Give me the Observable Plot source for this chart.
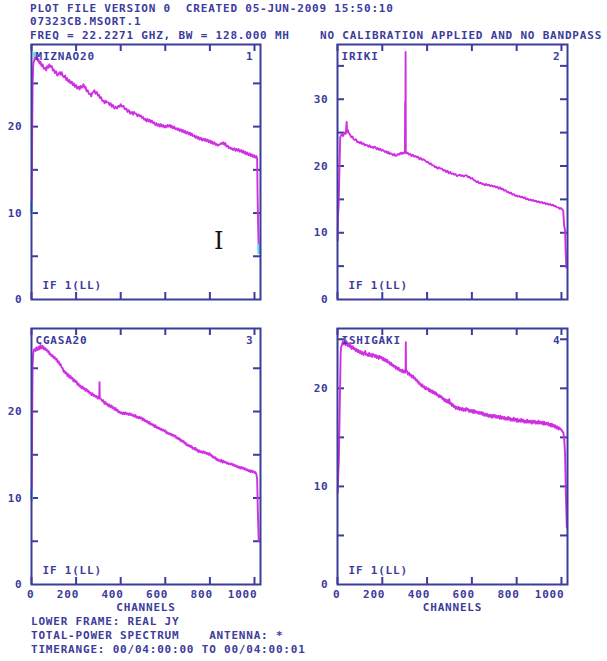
<!DOCTYPE html>
<html><head><meta charset="utf-8">
<script src="https://cdn.jsdelivr.net/npm/d3@7"></script>
<script src="https://cdn.jsdelivr.net/npm/@observablehq/plot@0.6"></script>
<style>
body{margin:0;background:#fff;}
#page{position:relative;width:607px;height:661px;overflow:hidden;font-family:"DejaVu Sans Mono",monospace;font-size:11px;font-weight:bold;letter-spacing:0.8px;color:#3c3c9c;}
.t{position:absolute;white-space:pre;line-height:12px;}
.p{position:absolute;}
.p svg text{letter-spacing:0.8px;font-weight:bold;}
.cursor{position:absolute;font-family:"DejaVu Serif",serif;font-weight:normal;font-size:24px;line-height:24px;color:#111;letter-spacing:0;}
</style></head><body><div id="page"></div>
<script>
// ---------- text ----------
const header1 = "PLOT FILE VERSION 0  CREATED 05-JUN-2009 15:50:10";
const header2 = "07323CB.MSORT.1";
const header3a = "FREQ = 22.2271 GHZ, BW = 128.000 MH";
const header3b = "NO CALIBRATION APPLIED AND NO BANDPASS";
const footer = ["LOWER FRAME: REAL JY", "TOTAL-POWER SPECTRUM    ANTENNA: *", "TIMERANGE: 00/04:00:00 TO 00/04:00:01"];
const names = ["MIZNAO20", "IRIKI", "CGASA20", "ISHIGAKI"];
const numbers = ["1", "2", "3", "4"];
const ifLabel = "IF 1(LL)";
const xLabel = "CHANNELS";

// ---------- scales / ticks ----------
const xMax = 1027;
const xTicks = [0, 200, 400, 600, 800, 1000];
const yMax = [29.5, 38.2, 29.6, 26.1];
const yTicks = [[5,10,15,20,25], [5,10,15,20,25,30,35], [5,10,15,20,25], [5,10,15,20,25]];
const yLabels = [[0,10,20], [0,10,20,30], [0,10,20], [0,10,20]];

// ---------- spectra (channel, Jy) ----------
const spec1 = [[1,10.3],[2,15],[3,19.0],[5,25.0],[8,27.3],[12,27.6],[16,28.2],[20,27.8],[24,28.1],[28,27.6],[31,27.8],[36,27.3],[40,27.5],[45,27.0],[50,27.2],[55,26.7],[61,26.8],[66,26.5],[70,27.0],[75,26.8],[80,27.2],[85,26.9],[91,27.0],[96,26.5],[100,26.6],[105,26.2],[110,26.4],[116,25.9],[121,26.1],[126,26.3],[130,26.0],[135,26.3],[140,25.9],[145,25.7],[151,25.9],[156,25.4],[160,25.6],[165,25.2],[170,25.4],[175,25.0],[181,25.2],[186,24.8],[190,25.0],[195,24.6],[200,24.8],[205,24.4],[211,24.6],[216,24.3],[220,24.7],[226,24.5],[233,24.9],[238,24.5],[242,24.6],[247,24.1],[252,24.2],[257,23.8],[263,23.8],[268,23.5],[272,23.9],[277,24.0],[282,24.2],[287,23.8],[293,24.0],[298,23.6],[302,23.7],[307,23.3],[312,23.4],[317,23.0],[323,23.0],[328,22.7],[333,23.0],[338,22.8],[345,22.8],[350,22.5],[355,22.7],[360,22.3],[365,22.5],[372,22.1],[377,22.3],[383,22.1],[389,22.4],[395,22.3],[400,22.6],[405,22.3],[413,22.4],[418,22.0],[425,22.1],[431,21.7],[437,21.9],[443,21.5],[450,21.7],[455,21.4],[460,21.7],[465,21.5],[470,21.5],[475,21.2],[480,21.4],[485,21.2],[490,21.3],[495,21.0],[500,21.1],[505,20.8],[510,20.9],[515,20.6],[520,20.9],[525,20.6],[530,20.8],[535,20.5],[540,20.7],[545,20.4],[550,20.5],[555,20.2],[560,20.4],[565,20.1],[570,20.3],[575,20.0],[580,20.3],[585,20.0],[590,20.2],[595,19.9],[600,20.1],[605,19.9],[610,20.2],[615,20.0],[620,20.2],[625,19.9],[629,20.1],[634,19.8],[640,20.0],[645,19.7],[650,19.8],[655,19.6],[659,19.8],[664,19.5],[670,19.7],[675,19.4],[680,19.6],[685,19.3],[689,19.5],[694,19.2],[700,19.4],[705,19.1],[710,19.3],[715,19.0],[719,19.2],[724,18.9],[730,19.0],[735,18.7],[740,18.9],[745,18.6],[749,18.8],[754,18.5],[760,18.7],[765,18.4],[770,18.6],[775,18.4],[779,18.6],[784,18.3],[790,18.5],[795,18.2],[800,18.4],[805,18.1],[809,18.3],[814,18.0],[820,18.2],[825,17.9],[830,18.0],[835,17.8],[839,17.9],[844,17.9],[850,18.1],[855,18.0],[860,18.2],[865,17.9],[869,18.1],[874,17.7],[880,17.8],[885,17.5],[890,17.6],[895,17.4],[899,17.5],[904,17.3],[910,17.5],[915,17.2],[920,17.4],[925,17.2],[929,17.4],[934,17.1],[940,17.3],[945,17.0],[950,17.2],[955,16.9],[958,17.1],[963,16.8],[968,17.0],[973,16.7],[978,16.9],[983,16.6],[988,16.8],[993,16.5],[998,16.7],[1003,16.4],[1008,16.6],[1012,16.3],[1014,12.0],[1016,9.0],[1019,5.8]];

const spec2 = [[1,8.8],[2,12.3],[5,14],[9,19.8],[12,24.3],[16,24.6],[20,24.8],[25,24.5],[30,25.0],[35,24.8],[38,25.3],[41,26.6],[43,25.0],[46,25.4],[50,25.0],[57,24.6],[62,24.3],[67,24.4],[72,24.0],[77,23.9],[82,24.0],[88,23.6],[95,23.6],[100,23.4],[105,23.6],[110,23.3],[116,23.4],[121,23.1],[127,23.2],[132,23.1],[138,22.9],[143,23.1],[148,22.8],[154,22.9],[160,22.7],[165,22.9],[169,22.8],[175,22.5],[180,22.7],[186,22.4],[191,22.6],[196,22.3],[201,22.4],[206,22.3],[212,22.1],[218,22.2],[223,21.9],[228,22.1],[233,21.8],[238,21.9],[243,21.8],[248,21.6],[254,21.8],[259,21.5],[265,21.6],[270,21.8],[276,21.7],[282,22.0],[288,21.8],[293,22.0],[298,21.9],[301,22.1],[302,29.6],[303,22.2],[304,37.1],[305,22.0],[308,21.9],[313,22.0],[318,21.7],[325,21.8],[330,21.5],[336,21.7],[342,21.4],[348,21.5],[354,21.3],[360,21.4],[366,21.0],[372,21.2],[378,20.9],[384,21.0],[392,20.8],[398,20.6],[404,20.6],[410,20.3],[416,20.4],[422,20.1],[429,20.1],[435,19.8],[441,19.9],[447,19.6],[453,19.8],[460,19.6],[467,19.6],[473,19.3],[479,19.4],[485,19.1],[491,19.3],[497,18.9],[503,19.1],[509,18.8],[515,18.9],[521,18.7],[527,18.8],[533,18.5],[540,18.6],[546,18.7],[552,18.5],[558,18.6],[564,18.4],[570,18.6],[577,18.6],[583,18.3],[589,18.4],[595,18.1],[602,18.2],[608,17.9],[615,17.8],[621,17.6],[627,17.7],[633,17.4],[640,17.5],[646,17.3],[652,17.3],[658,17.1],[664,17.3],[670,17.1],[676,17.2],[682,17.0],[689,17.1],[695,16.9],[701,17.0],[707,16.8],[714,16.9],[720,16.6],[726,16.8],[732,16.5],[738,16.6],[744,16.3],[750,16.4],[757,16.1],[763,16.1],[769,15.9],[775,16.0],[781,15.7],[787,15.8],[794,15.5],[800,15.6],[806,15.4],[812,15.5],[818,15.3],[825,15.4],[831,15.2],[837,15.3],[843,15.0],[849,15.1],[855,14.9],[862,15.0],[868,14.8],[874,14.9],[880,14.7],[886,14.8],[892,14.6],[899,14.7],[905,14.5],[912,14.6],[918,14.4],[924,14.5],[930,14.3],[936,14.4],[943,14.2],[949,14.3],[955,14.1],[961,14.2],[967,14.0],[973,14.0],[980,13.8],[986,13.8],[992,13.6],[998,13.7],[1003,13.5],[1008,13.3],[1012,11.0],[1016,10.5],[1019,7.0],[1022,4.8]];

const spec3 = [[1,9.7],[2,14],[3,19.0],[5,25.5],[8,26.8],[12,27.2],[18,27.0],[22,27.4],[27,27.1],[32,27.5],[36,27.2],[40,27.7],[45,27.3],[50,27.6],[55,27.2],[59,27.4],[63,27.1],[68,27.2],[72,26.9],[77,27.0],[81,26.6],[85,26.7],[90,26.4],[95,26.5],[99,26.2],[104,26.3],[108,26.0],[113,26.1],[117,25.7],[122,25.8],[126,25.4],[130,25.5],[135,25.1],[140,25.0],[144,24.6],[148,24.7],[152,24.4],[157,24.5],[161,24.1],[166,24.3],[170,23.9],[175,24.1],[179,23.8],[184,23.9],[188,23.5],[193,23.7],[197,23.4],[202,23.5],[206,23.1],[211,23.2],[215,22.9],[220,23.0],[224,22.7],[229,22.9],[233,22.6],[238,22.7],[242,22.4],[247,22.6],[251,22.3],[256,22.4],[260,22.1],[265,22.2],[269,21.9],[274,22.1],[278,21.8],[283,21.9],[287,21.7],[292,21.8],[296,21.5],[300,21.7],[304,21.5],[305,23.4],[306,21.6],[309,21.5],[313,21.4],[318,21.2],[322,21.3],[327,20.9],[332,21.1],[336,20.8],[341,20.9],[345,20.6],[349,20.8],[354,20.5],[359,20.7],[363,20.4],[368,20.5],[372,20.2],[377,20.4],[381,20.1],[386,20.2],[390,19.9],[395,20.0],[399,19.8],[404,19.9],[408,19.7],[413,19.9],[417,19.7],[422,19.9],[426,19.7],[431,19.8],[435,19.6],[440,19.8],[444,19.6],[449,19.7],[453,19.5],[458,19.6],[462,19.4],[466,19.6],[471,19.3],[475,19.4],[480,19.2],[484,19.4],[489,19.2],[494,19.3],[498,19.0],[503,19.2],[507,18.9],[511,19.0],[516,18.8],[520,18.9],[525,18.6],[529,18.8],[534,18.5],[538,18.6],[543,18.4],[547,18.5],[552,18.2],[556,18.4],[561,18.1],[565,18.2],[570,18.0],[574,18.1],[578,17.9],[583,18.0],[587,17.8],[592,17.9],[596,17.7],[601,17.8],[605,17.5],[610,17.6],[614,17.4],[619,17.5],[623,17.3],[628,17.4],[632,17.2],[637,17.3],[641,17.1],[646,17.2],[650,16.9],[655,17.0],[659,16.8],[664,16.9],[668,16.6],[673,16.7],[677,16.5],[682,16.6],[686,16.3],[691,16.4],[695,16.1],[700,16.2],[704,16.0],[709,16.1],[713,15.9],[718,16.0],[722,15.7],[727,15.8],[731,15.6],[735,15.8],[740,15.5],[744,15.6],[749,15.3],[753,15.5],[758,15.3],[762,15.4],[767,15.2],[771,15.4],[776,15.2],[780,15.3],[785,15.1],[789,15.2],[794,15.0],[798,15.2],[803,14.9],[807,15.0],[812,14.7],[816,14.8],[820,14.6],[825,14.7],[829,14.4],[834,14.5],[838,14.3],[843,14.4],[848,14.2],[852,14.4],[857,14.1],[861,14.3],[866,14.1],[870,14.2],[875,14.0],[879,14.1],[884,13.9],[888,14.0],[892,13.9],[897,14.0],[901,13.8],[906,13.9],[910,13.7],[915,13.8],[919,13.6],[924,13.7],[928,13.5],[933,13.6],[937,13.4],[942,13.6],[946,13.4],[951,13.5],[955,13.3],[960,13.4],[964,13.2],[969,13.3],[973,13.1],[978,13.2],[982,13.0],[987,13.2],[991,13.0],[996,13.1],[1000,12.9],[1004,13.0],[1008,12.8],[1012,12.2],[1015,8.5],[1019,5.0]];

const spec4 = [[1,9.3],[3,11],[6,12.7],[10,18],[14,23.5],[16,24.2],[20,24.4],[24,24.8],[28,24.5],[32,24.7],[36,24.4],[40,24.8],[43,24.6],[47,24.3],[51,24.6],[55,24.2],[59,24.4],[63,24.0],[68,24.3],[73,24.0],[77,24.1],[81,23.8],[86,24.0],[90,23.7],[94,23.9],[99,23.6],[103,23.8],[107,23.5],[112,23.7],[116,23.4],[120,23.6],[124,23.8],[128,23.4],[132,23.5],[137,23.3],[141,23.6],[145,23.3],[150,23.5],[154,23.2],[158,23.5],[162,23.4],[167,23.2],[171,23.4],[175,23.1],[180,23.3],[184,23.0],[188,23.3],[192,23.1],[197,23.2],[201,22.9],[205,23.1],[209,22.8],[214,23.0],[218,22.7],[222,22.9],[227,22.6],[231,22.7],[235,22.4],[240,22.6],[244,22.3],[248,22.4],[251,22.2],[256,22.3],[260,22.0],[264,22.2],[269,21.9],[273,22.1],[277,21.8],[281,21.9],[286,21.7],[290,21.9],[294,21.6],[298,21.8],[302,21.6],[304,22.0],[305,24.7],[306,21.9],[311,21.7],[315,21.4],[319,21.6],[324,21.3],[328,21.4],[332,21.1],[337,21.3],[341,21.0],[345,21.1],[350,20.8],[354,20.9],[358,20.6],[362,20.7],[366,20.4],[370,20.5],[375,20.2],[379,20.4],[383,20.1],[388,20.2],[392,19.9],[396,20.1],[400,19.9],[405,20.0],[409,19.7],[413,19.9],[417,19.6],[422,19.8],[426,19.5],[430,19.7],[435,19.4],[439,19.6],[443,19.3],[447,19.4],[452,19.1],[456,19.3],[460,19.1],[464,19.2],[469,18.9],[473,19.0],[477,18.7],[481,18.9],[486,18.6],[490,18.8],[494,18.5],[499,18.9],[503,18.4],[507,18.5],[511,18.2],[515,18.4],[519,18.1],[524,18.2],[528,17.9],[532,18.1],[537,17.9],[541,18.1],[545,17.8],[549,18.0],[554,17.8],[558,18.0],[562,17.7],[566,17.9],[571,17.7],[575,18.0],[579,17.8],[583,17.9],[588,17.6],[592,17.8],[596,17.6],[600,17.8],[605,17.5],[609,17.8],[613,17.5],[617,17.7],[622,17.5],[626,17.6],[630,17.4],[634,17.6],[638,17.4],[643,17.6],[647,17.3],[651,17.5],[656,17.2],[660,17.4],[664,17.2],[668,17.4],[673,17.1],[677,17.3],[681,17.1],[685,17.3],[690,17.0],[694,17.3],[698,17.1],[702,17.3],[707,17.0],[711,17.2],[715,17.0],[719,17.2],[724,16.9],[728,17.2],[732,16.9],[736,17.1],[741,16.9],[745,17.1],[749,16.8],[753,17.0],[757,16.8],[762,17.1],[766,16.8],[770,17.0],[774,16.7],[779,16.9],[783,16.7],[787,17.0],[791,16.7],[796,16.9],[800,16.6],[804,16.9],[808,16.6],[813,16.8],[817,16.6],[821,16.9],[825,16.6],[830,16.8],[834,16.5],[838,16.7],[842,16.5],[847,16.8],[851,16.5],[855,16.7],[859,16.5],[864,16.7],[868,16.4],[872,16.7],[876,16.5],[881,16.7],[885,16.4],[889,16.6],[893,16.4],[898,16.7],[902,16.4],[906,16.6],[910,16.4],[915,16.6],[919,16.3],[923,16.6],[927,16.3],[932,16.5],[936,16.3],[940,16.5],[944,16.2],[949,16.4],[953,16.1],[957,16.4],[961,16.1],[966,16.3],[970,16.0],[974,16.2],[978,15.9],[983,16.1],[987,15.8],[991,16.0],[996,15.8],[1000,15.8],[1004,15.6],[1008,15.5],[1012,15.0],[1016,13.3],[1020,9.0],[1024,5.8]];

// cyan markers (channel, from Jy, to Jy)
const cyan1 = [[0, 9.9, 11.3], [1020, 5.2, 6.4], [14, 28.0, 28.6]];
const cyan2 = [];
const cyan3 = [[0, 9.7, 10.9]];
const cyan4 = [];

const spectra = [spec1, spec2, spec3, spec4];
const cyans = [cyan1, cyan2, cyan3, cyan4];

// ---------- drawing ----------
const NAVY = "#3c3c9c";
const LINE = "#cf2fe2";
const page = document.getElementById("page");

function addText(str, x, yc) {
  const d = document.createElement("div");
  d.className = "t";
  d.textContent = str;
  d.style.left = x + "px";
  d.style.top = (yc - 6) + "px";
  page.appendChild(d);
}

const layout = [
  {left: 0,   top: 30,  width: 300, height: 275, mL: 31, mR: 40, mT: 14, mB: 6,  bottom: false},
  {left: 300, top: 30,  width: 307, height: 275, mL: 37, mR: 40, mT: 14, mB: 6,  bottom: false},
  {left: 0,   top: 314, width: 300, height: 300, mL: 31, mR: 40, mT: 14, mB: 30, bottom: true},
  {left: 300, top: 314, width: 307, height: 300, mL: 37, mR: 40, mT: 14, mB: 30, bottom: true}
];

layout.forEach((L, i) => {
  const innerW = L.width - L.mL - L.mR;
  const innerH = L.height - L.mT - L.mB;
  const rows = spectra[i].map(([ch, jy]) => ({ch, jy}));
  const cy = cyans[i].map(([ch, a, b]) => ({ch, a, b}));
  const marks = [
    Plot.tickX(xTicks, {x: d => d, stroke: NAVY, strokeWidth: 2, insetBottom: innerH - 7}),
    Plot.tickX(xTicks, {x: d => d, stroke: NAVY, strokeWidth: 2, insetTop: innerH - 7}),
    Plot.tickY(yTicks[i], {y: d => d, stroke: NAVY, strokeWidth: 2, insetRight: innerW - 7}),
    Plot.tickY(yTicks[i], {y: d => d, stroke: NAVY, strokeWidth: 2, insetLeft: innerW - 7}),
    Plot.axisY(yLabels[i], {tickSize: 0, tickPadding: 9, label: null, fontSize: 11, fill: NAVY, tickFormat: d => String(d)}),
    Plot.line(rows, {x: "ch", y: "jy", stroke: LINE, strokeWidth: 1.9}),
    Plot.ruleX(cy, {x: "ch", y1: "a", y2: "b", stroke: "#62dcf2", strokeWidth: 3}),
    Plot.frame({stroke: NAVY, strokeWidth: 2}),
    Plot.text([names[i]], {text: d => d, frameAnchor: "top-left", textAnchor: "start", lineAnchor: "middle", dx: 4, dy: 12, fontSize: 11, fill: NAVY}),
    Plot.text([numbers[i]], {text: d => d, frameAnchor: "top-right", textAnchor: "end", lineAnchor: "middle", dx: -7, dy: 12, fontSize: 11, fill: NAVY}),
    Plot.text([ifLabel], {text: d => d, frameAnchor: "bottom-left", textAnchor: "start", lineAnchor: "middle", dx: 11, dy: -14, fontSize: 11, fill: NAVY})
  ];
  if (L.bottom) {
    marks.push(Plot.axisX(xTicks, {tickSize: 0, tickPadding: 6, textAnchor: "end", dx: 3, label: null, fontSize: 11, fill: NAVY, tickFormat: d => String(d)}));
    marks.push(Plot.text([xLabel], {text: d => d, frameAnchor: "bottom", lineAnchor: "middle", dy: 23, fontSize: 11, fill: NAVY}));
  }
  const svg = Plot.plot({
    width: L.width, height: L.height,
    marginLeft: L.mL, marginRight: L.mR, marginTop: L.mT, marginBottom: L.mB,
    x: {domain: [0, xMax], axis: L.bottom ? undefined : null},
    y: {domain: [0, yMax[i]]},
    style: {fontFamily: "'DejaVu Sans Mono', monospace", fontSize: "11px", color: NAVY, background: "transparent", overflow: "visible"},
    marks
  });
  const wrap = document.createElement("div");
  wrap.className = "p";
  wrap.style.left = L.left + "px";
  wrap.style.top = L.top + "px";
  wrap.appendChild(svg);
  page.appendChild(wrap);
});

addText(header1, 30, 9);
addText(header2, 30, 22);
addText(header3a, 30, 36);
addText(header3b, 320, 36);
addText(footer[0], 31, 622);
addText(footer[1], 31, 636);
addText(footer[2], 31, 650);

const cur = document.createElement("div");
cur.className = "cursor";
cur.textContent = "I";
cur.style.left = "214px";
cur.style.top = "229px";
page.appendChild(cur);
</script>
</body></html>
